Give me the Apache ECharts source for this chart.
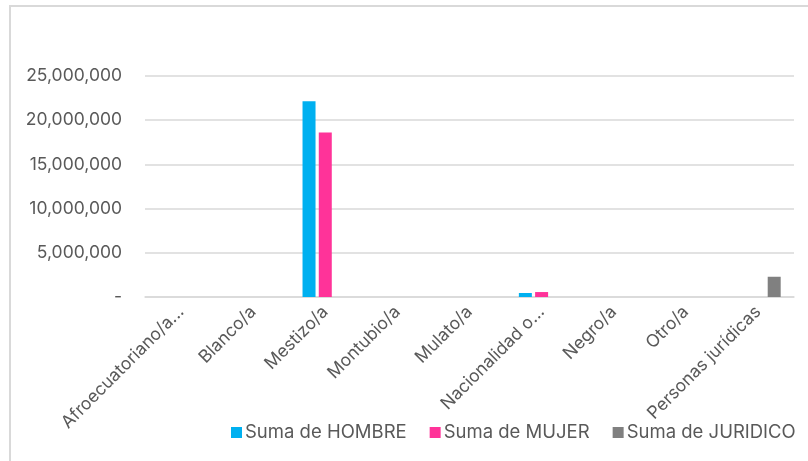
<!DOCTYPE html>
<html>
<head>
<meta charset="utf-8">
<script src="https://cdn.jsdelivr.net/npm/echarts@6/dist/echarts.min.js"></script>
<style>
    html, body { margin: 0; padding: 0; background: #fff; overflow: hidden; }
    #chart { position: absolute; left: 0; top: 0; width: 808px; height: 461px; }
    /* marco gris del gráfico */
    #frame { position: absolute; left: 9px; top: 5px; width: 830px; height: 480px;
             border: 2px solid #d9d9d9; pointer-events: none; }
</style>
</head>
<body>
<div id="chart"></div>
<div id="frame"></div>
<script>
/* datos */
const categorias = ['Afroecuatoriano/a...', 'Blanco/a', 'Mestizo/a', 'Montubio/a', 'Mulato/a',
    'Nacionalidad o...', 'Negro/a', 'Otro/a', 'Personas jurídicas'];
const hombre = [0, 0, 22150000, 0, 0, 450000, 0, 0, 0];
const mujer = [0, 0, 18610000, 0, 0, 560000, 0, 0, 0];
const juridico = [0, 0, 0, 0, 0, 0, 0, 0, 2290000];
const yTicks = [0, 5000000, 10000000, 15000000, 20000000, 25000000];

const fuente = 'Inter, "Noto Sans", sans-serif';
const gris = '#595959';

var chart = echarts.init(document.getElementById('chart'));
option = {
    animation: false,
    textStyle: { fontFamily: fuente },
    legend: {
        left: 226,
        top: 418,
        itemWidth: 11,
        itemHeight: 11,
        itemGap: 23,
        icon: 'rect',
        textStyle: { fontSize: 18.5, color: gris, fontFamily: fuente, padding: [0, 0, 0, -2] },
        data: ['Suma de HOMBRE', 'Suma de MUJER', 'Suma de JURIDICO']
    },
    grid: {
        left: 145,
        right: 14,
        top: 76,
        bottom: 164
    },
    xAxis: {
        type: 'category',
        data: categorias,
        axisLine: { lineStyle: { color: '#d9d9d9', width: 1.5 } },
        axisTick: { show: false },
        axisLabel: {
            rotate: 45,
            interval: 0,
            margin: 12,
            fontSize: 17.5,
            color: gris,
            fontFamily: fuente
        }
    },
    yAxis: {
        type: 'value',
        min: yTicks[0],
        max: yTicks[yTicks.length - 1],
        interval: 5000000,
        axisLine: { show: false },
        axisTick: { show: false },
        splitLine: { lineStyle: { color: '#d9d9d9', width: 1.5 } },
        axisLabel: {
            margin: 23,
            fontSize: 17.5,
            color: gris,
            fontFamily: fuente,
            formatter: function (v) {
                return v === 0 ? '-' : v.toLocaleString('en-US');
            }
        }
    },
    series: [
        {
            name: 'Suma de HOMBRE',
            type: 'bar',
            barWidth: 13,
            barGap: '25%',
            itemStyle: { color: '#00b0f0' },
            data: hombre
        },
        {
            name: 'Suma de MUJER',
            type: 'bar',
            barWidth: 13,
            barGap: '25%',
            itemStyle: { color: '#ff3399' },
            data: mujer
        },
        {
            name: 'Suma de JURIDICO',
            type: 'bar',
            barWidth: 13,
            barGap: '25%',
            itemStyle: { color: '#808080' },
            data: juridico
        }
    ]
};
chart.setOption(option);
</script>
</body>
</html>
